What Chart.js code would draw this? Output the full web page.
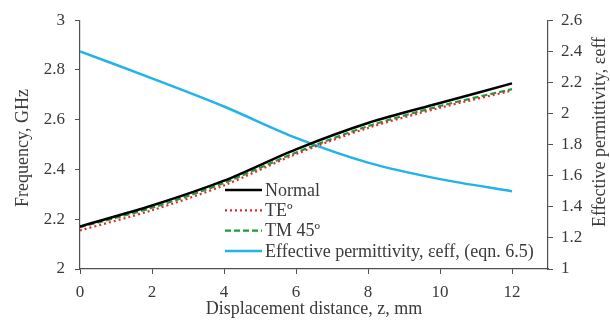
<!DOCTYPE html>
<html>
<head>
<meta charset="utf-8">
<script src="https://cdn.jsdelivr.net/npm/chart.js@4"></script>
<style>
  html, body { margin: 0; padding: 0; background: #fff; }
  #wrap { width: 610px; height: 320px; }
</style>
</head>
<body>
<div id="wrap"><canvas id="chart"></canvas></div>
<script>
// data
const distance = [0, 2, 4, 6, 8, 10, 12];
const normalFreq = [2.171, 2.255, 2.355, 2.481, 2.587, 2.667, 2.746];
const teFreq = [2.155, 2.236, 2.336, 2.462, 2.567, 2.648, 2.717];
const tmFreq = [2.168, 2.246, 2.346, 2.468, 2.574, 2.655, 2.723];
const effPermittivity = [2.4, 2.226, 2.045, 1.843, 1.684, 1.578, 1.5];
const xTicks = [0, 2, 4, 6, 8, 10, 12];

const FONT = '"Liberation Serif", "DejaVu Serif", serif';
const TXT = '#3a3a3a';
const AXIS = '#505050';

const pts = arr => arr.map((v, i) => ({ x: distance[i], y: v }));
const fmt = v => String(+v.toFixed(1));

// legend inside the plot area + both y titles reading bottom-to-top
const extras = {
    id: 'extras',
    afterDraw(chart) {
        const ctx = chart.ctx;
        const x0 = 225, x1 = 262, y0 = 190, rowH = 20.3;
        ctx.save();
        ctx.font = '18px ' + FONT;
        ctx.fillStyle = TXT;
        ctx.textBaseline = 'middle';
        chart.data.datasets.forEach((ds, i) => {
            const y = y0 + i * rowH;
            ctx.beginPath();
            ctx.strokeStyle = ds.borderColor;
            ctx.lineWidth = ds.borderWidth;
            ctx.setLineDash(ds.borderDash || []);
            ctx.moveTo(x0, y);
            ctx.lineTo(x1, y);
            ctx.stroke();
            ctx.setLineDash([]);
            ctx.textAlign = 'left';
            ctx.fillText(ds.label, x1 + 3, y + 1);
        });
        ctx.textAlign = 'center';
        [['Frequency, GHz', 23, 148], ['Effective permittivity, εeff', 600, 132]].forEach(([t, x, y]) => {
            ctx.save();
            ctx.translate(x, y);
            ctx.rotate(-Math.PI / 2);
            ctx.fillText(t, 0, 0);
            ctx.restore();
        });
        ctx.restore();
    }
};

new Chart(document.getElementById('chart'), {
    type: 'line',
    data: {
        datasets: [
            { label: 'Normal', data: pts(normalFreq), borderColor: '#000000', borderWidth: 2.5, yAxisID: 'y' },
            { label: 'TEº', data: pts(teFreq), borderColor: '#e8262b', borderWidth: 2.2, borderDash: [2, 3], yAxisID: 'y' },
            { label: 'TM 45º', data: pts(tmFreq), borderColor: '#1f9a3c', borderWidth: 2.2, borderDash: [6, 3], yAxisID: 'y' },
            { label: 'Effective permittivity, εeff, (eqn. 6.5)', data: pts(effPermittivity), borderColor: '#22b3e8', borderWidth: 2.5, yAxisID: 'y2' }
        ]
    },
    options: {
        responsive: true,
        maintainAspectRatio: false,
        animation: false,
        layout: { padding: { top: 10, right: 0, left: 0, bottom: 0 } },
        elements: {
            point: { radius: 0 },
            line: { tension: 0.3, fill: false }
        },
        plugins: {
            legend: { display: false },
            tooltip: { enabled: false }
        },
        scales: {
            x: {
                type: 'linear',
                min: 0,
                max: 13,
                afterBuildTicks: axis => { axis.ticks = xTicks.map(v => ({ value: v })); },
                afterFit: s => { s.height = 51; },
                grid: { drawOnChartArea: false, tickLength: 5, color: AXIS },
                border: { color: AXIS, width: 1.2 },
                ticks: { color: TXT, font: { family: FONT, size: 17 }, padding: 8, maxRotation: 0 },
                title: { display: true, text: 'Displacement distance, z, mm', color: TXT, font: { family: FONT, size: 18 }, padding: { top: -7, bottom: 0 } }
            },
            y: {
                position: 'left',
                min: 2,
                max: 3,
                afterFit: s => { s.width = 80; },
                grid: { drawOnChartArea: false, tickLength: 5, color: AXIS },
                border: { color: AXIS, width: 1.2 },
                ticks: { stepSize: 0.2, color: TXT, font: { family: FONT, size: 17 }, padding: 10, callback: fmt }
            },
            y2: {
                position: 'right',
                min: 1,
                max: 2.6,
                afterFit: s => { s.width = 62; },
                grid: { drawOnChartArea: false, tickLength: 5, color: AXIS },
                border: { color: AXIS, width: 1.2 },
                ticks: { stepSize: 0.2, color: TXT, font: { family: FONT, size: 17 }, padding: 8, callback: fmt }
            }
        }
    },
    plugins: [extras]
});
</script>
</body>
</html>
